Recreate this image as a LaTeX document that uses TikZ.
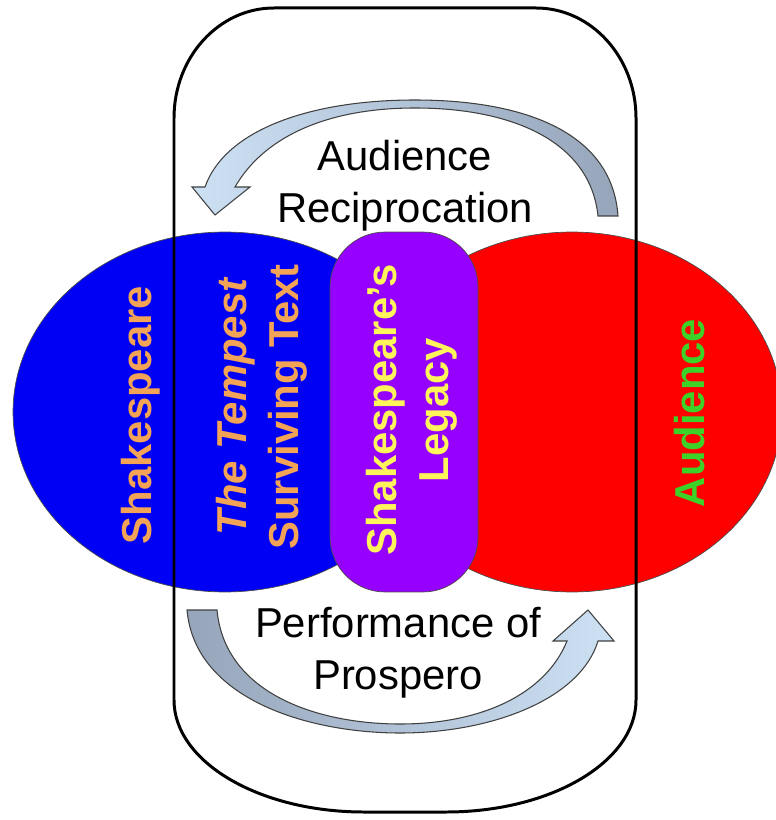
\documentclass[tikz,border=0pt]{standalone}
\usepackage{fontspec}
\setmainfont{Liberation Sans}
\usetikzlibrary{shapes.geometric}

\definecolor{shakeblue}{RGB}{0,0,245}
\definecolor{audred}{RGB}{255,0,0}
\definecolor{legacypurple}{RGB}{150,0,255}
\definecolor{txtorange}{RGB}{242,163,86}
\definecolor{txtyellow}{RGB}{255,245,90}
\definecolor{txtgreen}{RGB}{60,210,40}
\definecolor{arrowlight}{RGB}{205,225,245}
\definecolor{arrowdark}{RGB}{150,165,185}

\tikzset{
  lbl/.style={font=\fontsize{23.8}{29.5}\selectfont, align=center, inner sep=0pt},
  vlbl/.style={lbl, font=\fontsize{23.8}{29.5}\selectfont\bfseries, rotate=90},
  bend arrow/.style={draw=black!75, line width=0.6pt}
}

\begin{document}
\begin{tikzpicture}[x=0.02cm, y=-0.02cm]
            \useasboundingbox (0,0) rectangle (776,820);

            \begin{scope}[every node/.style={ellipse,draw=black!70,inner sep=0pt,minimum height=7.2cm}]
                \node (shake)[fill=shakeblue,minimum width=8.48cm] at (225,412) {};
                \node (aud)[fill=audred,minimum width=8.4cm] at (572,412) {};
            \end{scope}
            \node (legacy)[rectangle,rounded corners=1.1cm,draw=black!70,fill=legacypurple,
                minimum width=2.96cm,minimum height=7.2cm,inner sep=0pt] at (404,412) {};

            % frame
            \draw[line width=1.7pt] (174,118) arc[start angle=180,end angle=270,x radius=100,y radius=110]
                -- (536,8) arc[start angle=270,end angle=360,x radius=100,y radius=110]
                -- (636,700) arc[start angle=0,end angle=90,x radius=190,y radius=112]
                -- (364,812) arc[start angle=90,end angle=180,x radius=190,y radius=112] -- cycle;

            % curved arrows
            \path[bend arrow, left color=arrowlight, right color=arrowdark]
                (618,216) .. controls (612,130) and (520,100) .. (415,100)
                .. controls (310,100) and (225,130) .. (205,187)
                -- (192,187) -- (215,215) -- (250,187) -- (235,187)
                .. controls (265,135) and (330,108) .. (415,108)
                .. controls (510,108) and (590,140) .. (598,216) -- cycle;
            \path[bend arrow, left color=arrowdark, right color=arrowlight]
                (187,610) .. controls (195,700) and (310,733) .. (400,733)
                .. controls (490,733) and (580,700) .. (598,641)
                -- (614,641) -- (588,610) -- (553,641) -- (567,641)
                .. controls (545,695) and (480,724) .. (400,724)
                .. controls (320,724) and (225,695) .. (217,610) -- cycle;

            \node (recip)[lbl] at (405,185.5) {Audience\\Reciprocation};
            \node (perform)[lbl] at (398,653) {Performance of\\Prospero};

            \node (shaketxt)[vlbl,text=txtorange] at (141,415) {Shakespeare};
            \node (tempest)[vlbl,text=txtorange] at (262,407) {\itshape The Tempest\\Surviving Text};
            \node (legacytxt)[vlbl,text=txtyellow] at (412,410) {Shakespeare’s\\Legacy};
            \node (audtxt)[vlbl,text=txtgreen] at (690,413) {Audience};
\end{tikzpicture}
\end{document}
